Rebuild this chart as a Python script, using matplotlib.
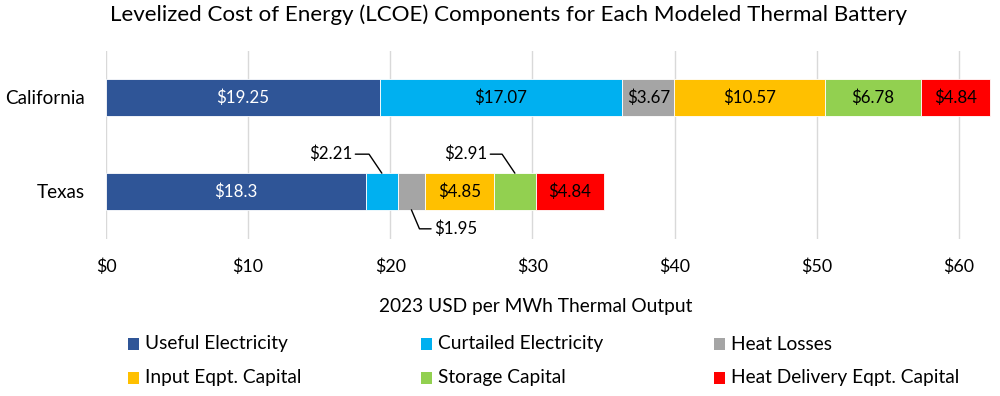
import matplotlib.pyplot as plt
from matplotlib.patches import Rectangle
import numpy as np

plt.rcParams['font.family'] = ['Lato', 'DejaVu Sans']

categories = ["California", "Texas"]
components = ["Useful Electricity", "Curtailed Electricity", "Heat Losses",
              "Input Eqpt. Capital", "Storage Capital", "Heat Delivery Eqpt. Capital"]
california = [19.25, 17.07, 3.67, 10.57, 6.78, 4.84]
texas = [18.3, 2.21, 1.95, 4.85, 2.91, 4.84]
california_labels = ["$19.25", "$17.07", "$3.67", "$10.57", "$6.78", "$4.84"]
texas_labels = ["$18.3", "$2.21", "$1.95", "$4.85", "$2.91", "$4.84"]
xticks = [0, 10, 20, 30, 40, 50, 60]
xtick_labels = ["$0", "$10", "$20", "$30", "$40", "$50", "$60"]

colors = ["#2F5597", "#00B0F0", "#A5A5A5", "#FFC000", "#92D050", "#FF0000"]
text_colors = ["white", "black", "black", "black", "black", "black"]

W, H = 1000, 396
fig = plt.figure(figsize=(W / 100, H / 100), dpi=100)
renderer = fig.canvas.get_renderer()


def size_for(text, target_px, base=13):
    t = fig.text(0, 0, text, fontsize=base)
    w = t.get_window_extent(renderer).width
    t.remove()
    return base * target_px / w


fs_cat = size_for("California", 80)
fs_tick = size_for("$60", 31)
fs_bar = size_for("$19.25", 53)
fs_title = size_for("Levelized Cost of Energy (LCOE) Components for Each Modeled Thermal Battery", 792)
fs_xlab = size_for("2023 USD per MWh Thermal Output", 312)
fs_leg = fs_xlab

ax = fig.add_axes([106 / W, 1 - 238.5 / H, 887 / W, 188 / H])

ypos = {"California": 1, "Texas": 0}
bar_h = 0.39
series = {"California": california, "Texas": texas}
labels = {"California": california_labels, "Texas": texas_labels}

for cat in categories:
    vals = series[cat]
    left = np.concatenate([[0], np.cumsum(vals)[:-1]])
    y = ypos[cat]
    ax.barh([y] * len(vals), vals, left=left, height=bar_h,
            color=colors, edgecolor="white", linewidth=0.6, zorder=2)
    for i, (v, l) in enumerate(zip(vals, left)):
        if cat == "Texas" and i in (1, 2, 4):
            continue
        ax.text(l + v / 2, y, labels[cat][i], ha="center", va="center",
                color=text_colors[i], fontsize=fs_bar, zorder=3)

# Callouts for small Texas segments
tv = texas
tl = np.concatenate([[0], np.cumsum(tv)[:-1]])
top = ypos["Texas"] + bar_h / 2
bot = ypos["Texas"] - bar_h / 2
callouts = [
    (1, top, (-51, 19), "angle,angleA=0,angleB=124"),
    (2, bot, (44, -19), "angle,angleA=0,angleB=-67"),
    (4, top, (-49, 19), "angle,angleA=0,angleB=124"),
]
for i, yy, off, cs in callouts:
    cx = tl[i] + tv[i] / 2
    ax.annotate(texas_labels[i], xy=(cx, yy), xytext=off, textcoords="offset pixels",
                ha="center", va="center", fontsize=fs_bar, color="black",
                arrowprops=dict(arrowstyle="-", color="black", lw=1.0,
                                connectionstyle=cs, shrinkA=0, shrinkB=0))

ax.set_xlim(0, 62.4)
ax.set_ylim(-0.5, 1.5)
ax.set_xticks(xticks)
ax.set_xticklabels(xtick_labels, fontsize=fs_tick)
for lab in ax.get_xticklabels():
    lab.set_verticalalignment("baseline")
ax.set_yticks([ypos[c] for c in categories])
ax.set_yticklabels(categories, fontsize=fs_cat)
ax.tick_params(axis="x", length=0, pad=33.5 * 0.72)
ax.tick_params(axis="y", length=0, pad=21 * 0.72)
ax.grid(axis="x", color="#D9D9D9", linewidth=1, zorder=0)
ax.set_axisbelow(True)
for s in ax.spines.values():
    s.set_visible(False)

fig.text(509 / W, 1 - 21 / H, "Levelized Cost of Energy (LCOE) Components for Each Modeled Thermal Battery",
         ha="center", va="baseline", fontsize=fs_title)
fig.text(536 / W, 1 - 312 / H, "2023 USD per MWh Thermal Output",
         ha="center", va="baseline", fontsize=fs_xlab)

# Legend (row-wise, 3 columns)
col_x = [128, 421, 714]
row_y = [344, 378]
for k, name in enumerate(components):
    r, c = divmod(k, 3)
    x0 = col_x[c]
    y0 = row_y[r]
    fig.patches.append(Rectangle((x0 / W, 1 - (y0 + 6) / H), 11 / W, 12 / H,
                                 transform=fig.transFigure, facecolor=colors[k],
                                 edgecolor="none"))
    fig.text((x0 + 17) / W, 1 - y0 / H, name, ha="left", va="center", fontsize=fs_leg)

fig.savefig("out.png", dpi=100)
